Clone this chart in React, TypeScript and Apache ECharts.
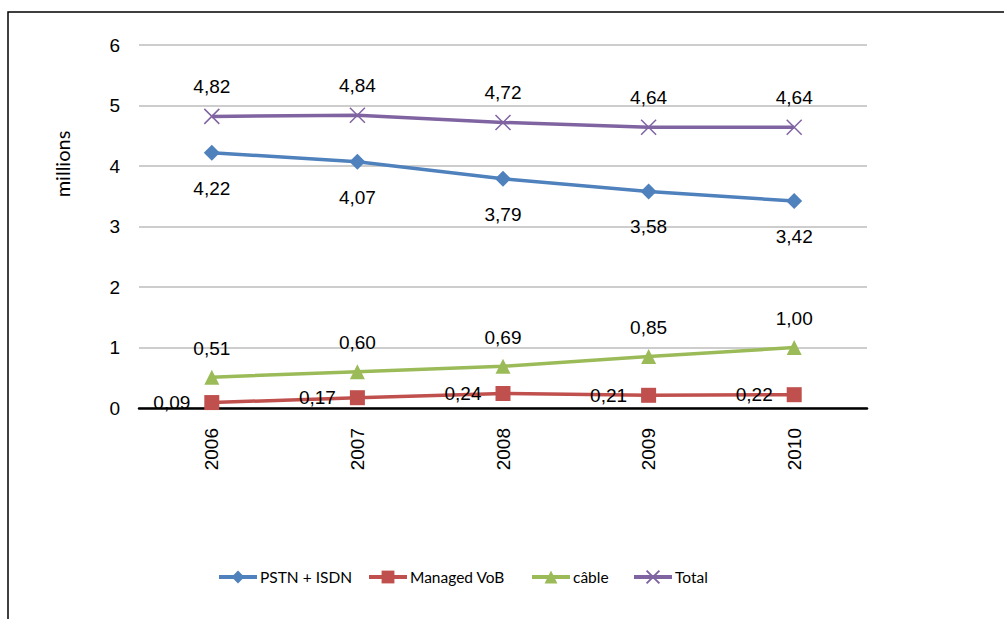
import React, { useEffect, useRef } from "react";
import * as echarts from "echarts";

const years = ["2006", "2007", "2008", "2009", "2010"];
const pstnIsdn = [4.22, 4.07, 3.79, 3.58, 3.42];
const managedVoB = [0.09, 0.17, 0.24, 0.21, 0.22];
const cable = [0.51, 0.6, 0.69, 0.85, 1.0];
const total = [4.82, 4.84, 4.72, 4.64, 4.64];
const seriesNames = ["PSTN + ISDN", "Managed VoB", "câble", "Total"];
const yTicks = { min: 0, max: 6, interval: 1 };
const axisTitle = "millions";

const legendLefts = [217, 367, 530, 632];

const fmt = (p: any) => Number(p.value).toFixed(2).replace(".", ",");

export default function App() {
  const ref = useRef<HTMLDivElement>(null);
  useEffect(() => {
    if (!ref.current) return;
    const chart = echarts.init(ref.current, null, { renderer: "svg" });
    const labelStyle = {
      show: true,
      formatter: fmt,
      fontFamily: "Liberation Sans, Arial, sans-serif",
      fontSize: 19,
      color: "#000",
    };
    chart.setOption({
      animation: false,
      backgroundColor: "#fff",
      grid: { left: 139, right: 137, top: 45, bottom: 211 },
      graphic: [
        {
          type: "rect",
          shape: { x: 8, y: 12, width: 1100, height: 700 },
          style: { fill: "none", stroke: "#000", lineWidth: 1.5 },
          silent: true,
        },
        {
          type: "text",
          x: 62,
          y: 164,
          rotation: Math.PI / 2,
          style: {
            text: axisTitle,
            fontFamily: "Lato, sans-serif",
            fontSize: 20,
            fill: "#000",
            align: "center",
            verticalAlign: "middle",
          },
        },
      ],
      legend: seriesNames.map((n, i) => ({
        bottom: 34,
        left: legendLefts[i],
        padding: 0,
        itemWidth: 38,
        itemHeight: 16,
        itemGap: 0,
        lineStyle: { width: 4 },
        textStyle: {
          fontFamily: "Lato, sans-serif",
          fontSize: 15.5,
          color: "#000",
          padding: [0, 0, 0, -2],
        },
        data: [n],
      })),
      xAxis: {
        type: "category",
        data: years,
        boundaryGap: true,
        axisLine: { lineStyle: { color: "#000", width: 2.5 } },
        axisTick: { show: false },
        axisLabel: {
          rotate: 90,
          margin: 20,
          fontFamily: "Liberation Sans, Arial, sans-serif",
          fontSize: 19,
          color: "#000",
        },
      },
      yAxis: {
        type: "value",
        min: yTicks.min,
        max: yTicks.max,
        interval: yTicks.interval,
        axisLine: { show: false },
        axisTick: { show: false },
        splitLine: { lineStyle: { color: "#BDBDBD", width: 1.5 } },
        axisLabel: {
          margin: 19,
          fontFamily: "Liberation Sans, Arial, sans-serif",
          fontSize: 19,
          color: "#000",
        },
      },
      series: [
        {
          name: seriesNames[0],
          type: "line",
          data: pstnIsdn,
          symbol: "diamond",
          symbolSize: 16,
          lineStyle: { width: 3.5, color: "#4F81BD" },
          itemStyle: { color: "#4F81BD" },
          label: { ...labelStyle, position: "bottom", distance: 18 },
        },
        {
          name: seriesNames[1],
          type: "line",
          data: managedVoB,
          symbol: "rect",
          symbolSize: 15,
          lineStyle: { width: 3.5, color: "#C0504D" },
          itemStyle: { color: "#C0504D" },
          label: { ...labelStyle, position: "left", distance: 14 },
        },
        {
          name: seriesNames[2],
          type: "line",
          data: cable,
          symbol: "triangle",
          symbolSize: 15,
          lineStyle: { width: 3.5, color: "#9BBB59" },
          itemStyle: { color: "#9BBB59" },
          label: { ...labelStyle, position: "top", distance: 12 },
        },
        {
          name: seriesNames[3],
          type: "line",
          data: total,
          symbol: "path://M0,0L10,10M10,0L0,10",
          symbolSize: 15,
          lineStyle: { width: 3.5, color: "#8064A2" },
          itemStyle: { color: "#8064A2", borderColor: "#8064A2", borderWidth: 1.5 },
          label: { ...labelStyle, position: "top", distance: 12 },
        },
      ],
    });
    return () => chart.dispose();
  }, []);
  return (
    <div
      ref={ref}
      style={{ position: "fixed", left: 0, top: 0, width: 1004, height: 619 }}
    />
  );
}
